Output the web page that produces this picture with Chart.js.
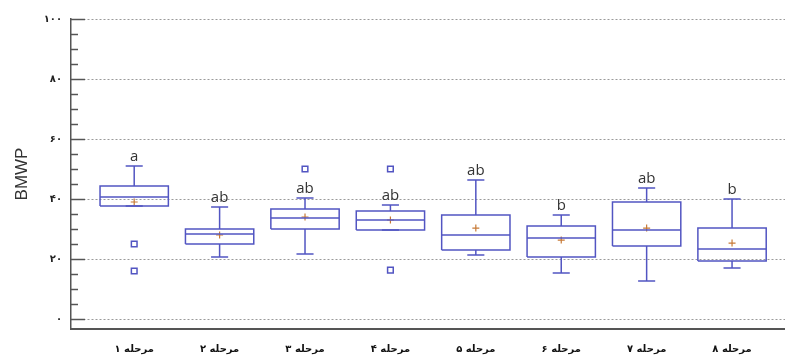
<!DOCTYPE html>
<html>
<head>
    <meta charset="utf-8">
    <title>BMWP box plot</title>
    <script src="https://cdn.jsdelivr.net/npm/chart.js"></script>
    <style>
        body {
            margin: 0;
            background: #fff;
        }

        .chart-wrap {
            width: 785px;
            height: 357px;
        }
    </style>
</head>
<body>
    <div class="chart-wrap"><canvas id="bmwpChart"></canvas></div>

    <script>
        // categories and box statistics
        const stages = ['مرحله ۱', 'مرحله ۲', 'مرحله ۳', 'مرحله ۴', 'مرحله ۵', 'مرحله ۶', 'مرحله ۷', 'مرحله ۸'];
        const letters = ['a', 'ab', 'ab', 'ab', 'ab', 'b', 'ab', 'b'];
        const whiskerMin = [37.7, 20.7, 21.7, 29.7, 21.3, 15.3, 12.7, 17];
        const q1 = [37.7, 25, 30, 29.7, 23, 20.7, 24.3, 19.3];
        const median = [40.7, 28.3, 33.7, 33, 28, 27, 29.7, 23.3];
        const q3 = [44.3, 30, 36.7, 36, 34.7, 31, 39, 30.3];
        const whiskerMax = [51, 37.3, 40.3, 38, 46.3, 34.7, 43.7, 40];
        const means = [39, 28, 34, 33, 30.3, 26.3, 30.3, 25.3];
        const outliers = [[25, 16], [], [50], [50, 16.3], [], [], [], []];
        const yTicks = [0, 20, 40, 60, 80, 100];
        const MINOR_STEP = 5;

        const BLUE = '#5255c2';
        const BOX_HALF = 0.4;
        const CAP_HALF = 0.1;

        const faDigits = '۰۱۲۳۴۵۶۷۸۹';
        const toFa = n => String(n).replace(/\d/g, d => faDigits[d]);

        // build line paths, null y breaks the line
        const gap = x => ({ x: x, y: null });
        const boxPts = [], medPts = [], whiskPts = [], meanPts = [], outPts = [];
        stages.forEach((s, i) => {
            const x = i + 1;
            boxPts.push({ x: x - BOX_HALF, y: q1[i] }, { x: x - BOX_HALF, y: q3[i] },
                { x: x + BOX_HALF, y: q3[i] }, { x: x + BOX_HALF, y: q1[i] },
                { x: x - BOX_HALF, y: q1[i] }, gap(x));
            medPts.push({ x: x - BOX_HALF, y: median[i] }, { x: x + BOX_HALF, y: median[i] }, gap(x));
            whiskPts.push({ x: x, y: q3[i] }, { x: x, y: whiskerMax[i] }, gap(x),
                { x: x - CAP_HALF, y: whiskerMax[i] }, { x: x + CAP_HALF, y: whiskerMax[i] }, gap(x),
                { x: x, y: q1[i] }, { x: x, y: whiskerMin[i] }, gap(x),
                { x: x - CAP_HALF, y: whiskerMin[i] }, { x: x + CAP_HALF, y: whiskerMin[i] }, gap(x));
            meanPts.push({ x: x, y: means[i] });
            outliers[i].forEach(v => outPts.push({ x: x, y: v }));
        });

        const lineProps = {
            showLine: true,
            borderColor: BLUE,
            borderWidth: 1.5,
            pointRadius: 0,
            spanGaps: false,
        };

        // inner tick marks on the y axis and the group letters
        const boxAnnotations = {
            id: 'boxAnnotations',
            afterDatasetsDraw(chart) {
                const { ctx, chartArea, scales: { x, y } } = chart;
                ctx.save();
                ctx.strokeStyle = '#555';
                ctx.lineWidth = 1.5;
                for (let v = yTicks[0]; v <= yTicks[yTicks.length - 1]; v += MINOR_STEP) {
                    const py = Math.round(y.getPixelForValue(v)) + 0.5;
                    const len = yTicks.includes(v) ? 14 : 7;
                    ctx.beginPath();
                    ctx.moveTo(chartArea.left, py);
                    ctx.lineTo(chartArea.left + len, py);
                    ctx.stroke();
                }
                ctx.fillStyle = '#333';
                ctx.font = '15px "Open Sans"';
                ctx.textAlign = 'center';
                ctx.textBaseline = 'alphabetic';
                letters.forEach((t, i) => {
                    ctx.fillText(t, x.getPixelForValue(i + 1), y.getPixelForValue(whiskerMax[i]) - 5);
                });
                ctx.restore();
            }
        };

        new Chart(document.getElementById('bmwpChart'), {
            type: 'scatter',
            data: {
                datasets: [
                    { data: boxPts, ...lineProps },
                    { data: medPts, ...lineProps },
                    { data: whiskPts, ...lineProps },
                    {
                        data: meanPts,
                        pointStyle: 'cross',
                        pointRadius: 3.5,
                        pointBorderWidth: 1.2,
                        borderColor: '#c77a36',
                        backgroundColor: '#c77a36',
                    },
                    {
                        data: outPts,
                        pointStyle: 'rect',
                        pointRadius: 4,
                        pointBorderWidth: 1.5,
                        borderColor: BLUE,
                        backgroundColor: '#fff',
                    },
                ]
            },
            options: {
                animation: false,
                responsive: true,
                maintainAspectRatio: false,
                layout: { autoPadding: false, padding: { top: 19, right: 0, bottom: 0, left: 0 } },
                scales: {
                    x: {
                        type: 'linear',
                        min: 0.26,
                        max: 8.62,
                        afterBuildTicks: axis => { axis.ticks = stages.map((s, i) => ({ value: i + 1 })); },
                        afterFit: axis => {
                            axis.height = 28;
                            axis.paddingLeft = 0;
                            axis.paddingRight = 0;
                        },
                        grid: { display: false },
                        border: { display: true, color: '#555', width: 2 },
                        ticks: {
                            callback: (v, i) => stages[i],
                            font: { family: 'DejaVu Sans', size: 10, weight: 'bold' },
                            color: '#111',
                            padding: 6,
                            maxRotation: 0,
                        },
                    },
                    y: {
                        min: -3.33,
                        max: 100,
                        afterBuildTicks: axis => { axis.ticks = yTicks.map(v => ({ value: v })); },
                        afterFit: axis => { axis.width = 71; },
                        grid: {
                            color: '#9a9a9a',
                            lineWidth: 1,
                            drawTicks: false,
                        },
                        border: { display: true, color: '#555', width: 1.5, dash: [2, 2] },
                        ticks: {
                            callback: v => toFa(v),
                            font: { family: 'DejaVu Sans', size: 10, weight: 'bold' },
                            color: '#222',
                            padding: 9,
                        },
                        title: {
                            display: true,
                            text: 'BMWP',
                            font: { family: 'Liberation Sans', size: 17 },
                            color: '#333',
                            padding: { top: 12, bottom: 0 },
                        },
                    }
                },
                plugins: {
                    legend: { display: false },
                    tooltip: { enabled: false },
                }
            },
            plugins: [boxAnnotations]
        });
    </script>
</body>
</html>
